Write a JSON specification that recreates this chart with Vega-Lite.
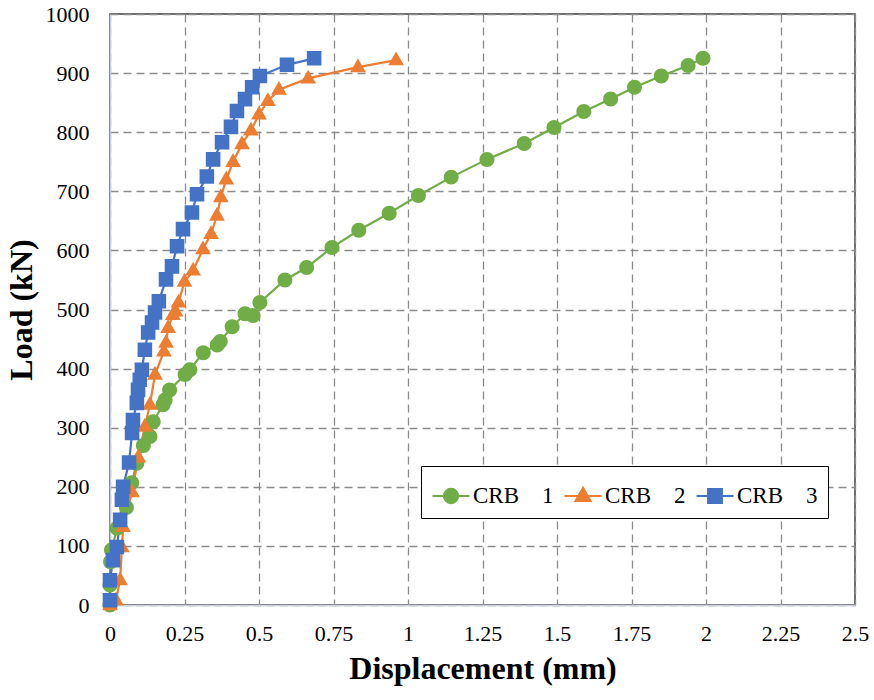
{
  "$schema": "https://vega.github.io/schema/vega-lite/v6.json",
  "width": 745,
  "height": 591,
  "autosize": {"type": "none"},
  "padding": {"left": 110, "top": 14, "right": 19, "bottom": 95},
  "background": "white",
  "config": {
    "view": {"stroke": "#404040", "strokeWidth": 1.5},
    "font": "Liberation Serif"
  },
  "datasets": {
    "pts": [
      {"series": "CRB 1", "d": 0, "load": 0},
      {"series": "CRB 1", "d": 0.0, "load": 34},
      {"series": "CRB 1", "d": 0.002, "load": 73},
      {"series": "CRB 1", "d": 0.005, "load": 93},
      {"series": "CRB 1", "d": 0.024, "load": 130},
      {"series": "CRB 1", "d": 0.055, "load": 165},
      {"series": "CRB 1", "d": 0.073, "load": 207},
      {"series": "CRB 1", "d": 0.09, "load": 240},
      {"series": "CRB 1", "d": 0.112, "load": 270},
      {"series": "CRB 1", "d": 0.134, "load": 285},
      {"series": "CRB 1", "d": 0.145, "load": 310},
      {"series": "CRB 1", "d": 0.178, "load": 339},
      {"series": "CRB 1", "d": 0.185, "load": 347},
      {"series": "CRB 1", "d": 0.2, "load": 364},
      {"series": "CRB 1", "d": 0.252, "load": 390},
      {"series": "CRB 1", "d": 0.268, "load": 398},
      {"series": "CRB 1", "d": 0.313, "load": 427},
      {"series": "CRB 1", "d": 0.36, "load": 440},
      {"series": "CRB 1", "d": 0.37, "load": 446},
      {"series": "CRB 1", "d": 0.41, "load": 471},
      {"series": "CRB 1", "d": 0.453, "load": 493},
      {"series": "CRB 1", "d": 0.48, "load": 490},
      {"series": "CRB 1", "d": 0.503, "load": 512},
      {"series": "CRB 1", "d": 0.587, "load": 550},
      {"series": "CRB 1", "d": 0.66, "load": 571},
      {"series": "CRB 1", "d": 0.745, "load": 605},
      {"series": "CRB 1", "d": 0.835, "load": 634},
      {"series": "CRB 1", "d": 0.937, "load": 663},
      {"series": "CRB 1", "d": 1.035, "load": 693},
      {"series": "CRB 1", "d": 1.145, "load": 724},
      {"series": "CRB 1", "d": 1.265, "load": 754},
      {"series": "CRB 1", "d": 1.39, "load": 781},
      {"series": "CRB 1", "d": 1.49, "load": 808},
      {"series": "CRB 1", "d": 1.59, "load": 835},
      {"series": "CRB 1", "d": 1.68, "load": 856},
      {"series": "CRB 1", "d": 1.76, "load": 876},
      {"series": "CRB 1", "d": 1.85, "load": 895},
      {"series": "CRB 1", "d": 1.94, "load": 913},
      {"series": "CRB 1", "d": 1.99, "load": 925},
      {"series": "CRB 2", "d": 0, "load": 0},
      {"series": "CRB 2", "d": 0.02, "load": 8},
      {"series": "CRB 2", "d": 0.034, "load": 42},
      {"series": "CRB 2", "d": 0.04, "load": 98},
      {"series": "CRB 2", "d": 0.044, "load": 132},
      {"series": "CRB 2", "d": 0.074, "load": 191},
      {"series": "CRB 2", "d": 0.095, "load": 250},
      {"series": "CRB 2", "d": 0.117, "load": 302},
      {"series": "CRB 2", "d": 0.134, "load": 339},
      {"series": "CRB 2", "d": 0.151, "load": 390},
      {"series": "CRB 2", "d": 0.181, "load": 429},
      {"series": "CRB 2", "d": 0.188, "load": 444},
      {"series": "CRB 2", "d": 0.195, "load": 469},
      {"series": "CRB 2", "d": 0.211, "load": 491},
      {"series": "CRB 2", "d": 0.22, "load": 497},
      {"series": "CRB 2", "d": 0.23, "load": 512},
      {"series": "CRB 2", "d": 0.25, "load": 547},
      {"series": "CRB 2", "d": 0.279, "load": 566},
      {"series": "CRB 2", "d": 0.312, "load": 602},
      {"series": "CRB 2", "d": 0.339, "load": 628},
      {"series": "CRB 2", "d": 0.359, "load": 659},
      {"series": "CRB 2", "d": 0.372, "load": 690},
      {"series": "CRB 2", "d": 0.39, "load": 720},
      {"series": "CRB 2", "d": 0.413, "load": 750},
      {"series": "CRB 2", "d": 0.443, "load": 780},
      {"series": "CRB 2", "d": 0.473, "load": 803},
      {"series": "CRB 2", "d": 0.5, "load": 830},
      {"series": "CRB 2", "d": 0.53, "load": 853},
      {"series": "CRB 2", "d": 0.567, "load": 872},
      {"series": "CRB 2", "d": 0.665, "load": 891},
      {"series": "CRB 2", "d": 0.832, "load": 910},
      {"series": "CRB 2", "d": 0.96, "load": 922},
      {"series": "CRB 3", "d": 0, "load": 8},
      {"series": "CRB 3", "d": 0.0, "load": 42},
      {"series": "CRB 3", "d": 0.01, "load": 76},
      {"series": "CRB 3", "d": 0.023, "load": 98},
      {"series": "CRB 3", "d": 0.034, "load": 144},
      {"series": "CRB 3", "d": 0.04, "load": 178},
      {"series": "CRB 3", "d": 0.044, "load": 200},
      {"series": "CRB 3", "d": 0.064, "load": 241},
      {"series": "CRB 3", "d": 0.074, "load": 291},
      {"series": "CRB 3", "d": 0.077, "load": 313},
      {"series": "CRB 3", "d": 0.09, "load": 342},
      {"series": "CRB 3", "d": 0.094, "load": 364},
      {"series": "CRB 3", "d": 0.1, "load": 381},
      {"series": "CRB 3", "d": 0.107, "load": 398},
      {"series": "CRB 3", "d": 0.117, "load": 432},
      {"series": "CRB 3", "d": 0.128, "load": 461},
      {"series": "CRB 3", "d": 0.141, "load": 478},
      {"series": "CRB 3", "d": 0.151, "load": 495},
      {"series": "CRB 3", "d": 0.164, "load": 514},
      {"series": "CRB 3", "d": 0.188, "load": 551},
      {"series": "CRB 3", "d": 0.208, "load": 573},
      {"series": "CRB 3", "d": 0.225, "load": 607},
      {"series": "CRB 3", "d": 0.245, "load": 636},
      {"series": "CRB 3", "d": 0.275, "load": 664},
      {"series": "CRB 3", "d": 0.292, "load": 695},
      {"series": "CRB 3", "d": 0.325, "load": 725},
      {"series": "CRB 3", "d": 0.346, "load": 754},
      {"series": "CRB 3", "d": 0.376, "load": 783},
      {"series": "CRB 3", "d": 0.406, "load": 809},
      {"series": "CRB 3", "d": 0.426, "load": 836},
      {"series": "CRB 3", "d": 0.453, "load": 856},
      {"series": "CRB 3", "d": 0.477, "load": 876},
      {"series": "CRB 3", "d": 0.503, "load": 895},
      {"series": "CRB 3", "d": 0.594, "load": 914},
      {"series": "CRB 3", "d": 0.685, "load": 925}
    ]
  },
  "data": {"name": "pts"},
  "encoding": {
    "x": {
      "field": "d", "type": "quantitative",
      "scale": {"domain": [0, 2.5], "nice": false, "zero": true},
      "axis": {
        "values": [0, 0.25, 0.5, 0.75, 1, 1.25, 1.5, 1.75, 2, 2.25, 2.5],
        "labelExpr": "format(datum.value, '~g')",
        "title": "Displacement (mm)",
        "titleFont": "Liberation Serif", "titleFontSize": 32, "titleFontWeight": "bold", "titleColor": "black",
        "titlePadding": 9,
        "labelFont": "Liberation Serif", "labelFontSize": 22, "labelColor": "black", "labelPadding": 18,
        "ticks": false,
        "domainColor": "#c8d0e0", "domainWidth": 1.5,
        "grid": true, "gridColor": "#8c8c8c", "gridDash": [8, 5], "gridWidth": 1.3,
        "labelFlush": false, "labelOverlap": false
      }
    },
    "y": {
      "field": "load", "type": "quantitative",
      "scale": {"domain": [0, 1000], "nice": false},
      "axis": {
        "values": [0, 100, 200, 300, 400, 500, 600, 700, 800, 900, 1000],
        "format": "d",
        "title": "Load (kN)",
        "titleFont": "Liberation Serif", "titleFontSize": 32, "titleFontWeight": "bold", "titleColor": "black",
        "titlePadding": 7,
        "labelFont": "Liberation Serif", "labelFontSize": 22, "labelColor": "black", "labelPadding": 21,
        "ticks": false,
        "domainColor": "#c8d0e0", "domainWidth": 1.5,
        "grid": true, "gridColor": "#8c8c8c", "gridDash": [8, 5], "gridWidth": 1.3,
        "labelFlush": false, "labelOverlap": false
      }
    },
    "color": {
      "field": "series", "type": "nominal",
      "scale": {"domain": ["CRB 1", "CRB 2", "CRB 3"], "range": ["#70AD47", "#ED7D31", "#4472C4"]},
      "legend": {
        "orient": "none", "legendX": 311, "legendY": 452,
        "direction": "horizontal", "columns": 3,
        "title": null,
        "labelExpr": "replace(datum.label, ' ', '\u00a0\u00a0\u00a0\u00a0')",
        "labelFont": "Liberation Serif", "labelFontSize": 23, "labelColor": "black",
        "labelOffset": 2,
        "symbolSize": 1369, "symbolStrokeWidth": 2.2,
        "strokeColor": "black", "padding": 10, "columnPadding": 6,
        "fillColor": "white"
      }
    }
  },
  "layer": [
    {"mark": {"type": "line", "strokeWidth": 2.2}},
    {
      "mark": {"type": "point", "filled": true, "size": 1554, "opacity": 1, "strokeWidth": 0},
      "encoding": {
        "shape": {
          "field": "series", "type": "nominal",
          "scale": {
            "domain": ["CRB 1", "CRB 2", "CRB 3"],
            "range": [
              "M-1,0H1M0.38,0A0.38,0.38 0 1,1 -0.38,0A0.38,0.38 0 1,1 0.38,0Z",
              "M-1,0H1M0,-0.44L0.4,0.26L-0.4,0.26Z",
              "M-1,0H1M-0.37,-0.37H0.37V0.37H-0.37Z"
            ]
          }
        },
        "stroke": {
          "field": "series", "type": "nominal",
          "scale": {"domain": ["CRB 1", "CRB 2", "CRB 3"], "range": ["#70AD47", "#ED7D31", "#4472C4"]}
        }
      }
    }
  ]
}
